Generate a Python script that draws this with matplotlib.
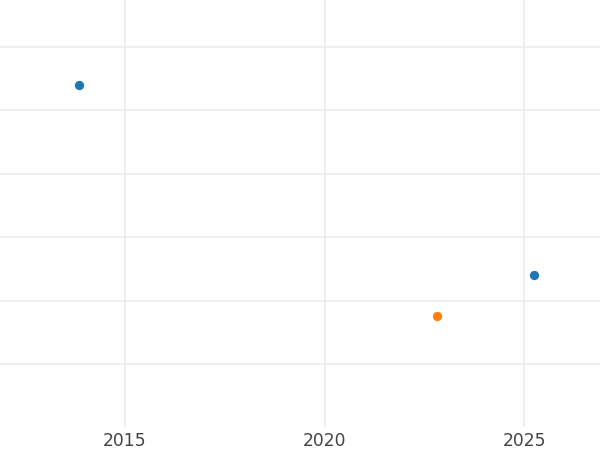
import matplotlib
matplotlib.use("Agg")
import matplotlib.pyplot as plt

# data
years_a = [2013.85, 2025.25]
values_a = [4.40, 1.40]
years_b = [2022.82]
values_b = [0.76]
xticks = [2015, 2020, 2025]
yticks = [0, 1, 2, 3, 4, 5]

fig = plt.figure(figsize=(6, 4.5), dpi=100)
ax = fig.add_axes([0, 23/450, 1, 427/450])
ax.set_facecolor("white")
ax.scatter(years_a, values_a, s=45, color="#1f77b4", zorder=3, linewidths=0)
ax.scatter(years_b, values_b, s=45, color="#ff7f0e", zorder=3, linewidths=0)
ax.set_xlim(2011.87, 2026.9)
ax.set_ylim(-0.99, 5.74)
ax.set_xticks(xticks)
ax.set_yticks(yticks)
ax.set_yticklabels([])
ax.grid(True, color="#ebebeb", linewidth=1.1)
ax.set_axisbelow(True)
for s in ax.spines.values():
    s.set_visible(False)
ax.tick_params(axis="both", length=0)
ax.tick_params(axis="x", pad=3.5, labelsize=12.3, labelcolor="#444444")
fig.savefig("out.png", dpi=100, facecolor="white")
